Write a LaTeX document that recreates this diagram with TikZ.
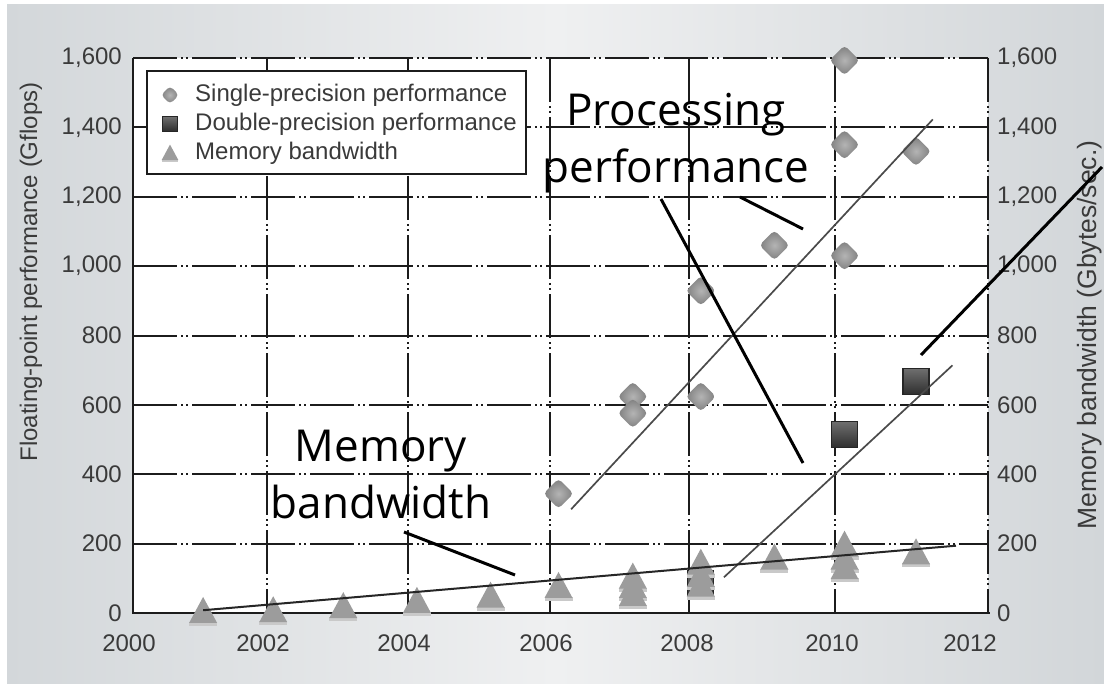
\documentclass[tikz,border=0pt]{standalone}
\usepackage{fontspec}
\setmainfont{Liberation Sans}
\newfontfamily\annfont{Open Sans}
\definecolor{bgside}{HTML}{D3D7DA}
\definecolor{bgright}{HTML}{D2D6D9}
\definecolor{bgmid}{HTML}{EFF0F1}
\definecolor{gridcol}{HTML}{1C1C1C}
\definecolor{labcol}{HTML}{3A3A3A}
\definecolor{dlight}{HTML}{B4B4B4}
\definecolor{ddark}{HTML}{7E7E7E}
\definecolor{sqtop}{HTML}{6E6E6E}
\definecolor{sqbot}{HTML}{2E2E2E}
\definecolor{sqedge}{HTML}{262626}
\definecolor{tricol}{HTML}{9C9C9C}
\definecolor{trilight}{HTML}{C9C9C9}
\definecolor{trendcol}{HTML}{4A4A4A}
\tikzset{
  gridline/.style={draw=gridcol,line width=2.2pt,dash pattern=on 44pt off 4pt on 2pt off 3pt on 2pt off 4pt},
  axisline/.style={draw=gridcol,line width=2.2pt},
  ticklab/.style={font=\fontsize{24}{28}\selectfont,text=labcol,inner sep=0pt},
  axlab/.style={font=\fontsize{24}{28}\selectfont,text=labcol,inner sep=0pt},
  raxlab/.style={font=\fontsize{26.5}{30}\selectfont,text=labcol,inner sep=0pt},
  legtext/.style={font=\fontsize{24}{28}\selectfont,text=labcol,inner sep=0pt,anchor=west},
  ann/.style={font=\annfont\fontsize{44}{57}\selectfont,align=center,inner sep=0pt,text=black},
  pointer/.style={draw=black,line width=3pt},
  trend/.style={draw=trendcol,line width=1.7pt},
  memtrend/.style={draw=black!85,line width=2pt},
  pics/diam/.style={code={\begin{scope}[scale=#1]
      \shade[inner color=dlight,outer color=ddark,rounded corners=4pt]
        (0pt,15pt) -- (15pt,0pt) -- (0pt,-15pt) -- (-15pt,0pt) -- cycle;
    \end{scope}}},
  pics/sq/.style={code={\begin{scope}[scale=#1]
      \shadedraw[top color=sqtop,bottom color=sqbot,draw=sqedge,line width=1.2pt]
        (-13pt,-13pt) rectangle (13pt,13pt);
    \end{scope}}},
  pics/tri/.style={code={\begin{scope}[scale=#1]
      \fill[trilight] (-14pt,-15pt) rectangle (14pt,-11pt);
      \fill[tricol] (-14pt,-12pt) -- (14pt,-12pt) -- (0pt,14pt) -- cycle;
    \end{scope}}}
}
\begin{document}
\begin{tikzpicture}[x=1pt,y=-1pt]
\useasboundingbox (0,0) rectangle (1104,690);
\fill[white] (0,0) rectangle (1104,690);
\shade[left color=bgside,right color=bgright,middle color=bgmid] (7,5) rectangle (1104,683);
% plot area
\fill[white] (133,58) rectangle (988,613);
% grid
\foreach \yy in {58,127.4,196.8,266.2,335.6,404.9,474.3,543.7}
  \draw[gridline] (133,\yy) -- (988,\yy);
\foreach \xx in {267,408,550,689,835}
  \draw[gridline] (\xx,58) -- (\xx,613);
\draw[gridline] (988,58) -- (988,613);
\draw[axisline] (133,58) -- (133,613) -- (990,613);
% legend
\node[draw=gridcol,line width=2pt,fill=white,minimum width=379pt,minimum height=103pt,anchor=north west,inner sep=0pt] (legend) at (146,70) {};
\pic at (170,95) {diam=0.6};
\pic at (170,124) {sq=0.55};
\pic at (170,153) {tri=0.6};
\node[legtext] (lg1) at (195,95) {Single-precision performance};
\node[legtext] (lg2) at (195,124) {Double-precision performance};
\node[legtext] (lg3) at (195,153) {Memory bandwidth};
% tick labels
\foreach \v/\t in {0/0,200/200,400/400,600/600,800/800,1000/{1,000},1200/{1,200},1400/{1,400},1600/{1,600}}{
  \node[ticklab,anchor=east] (yl\v) at (122,{613-0.3469*\v}) {\t};
  \node[ticklab,anchor=west] (yr\v) at (997,{613-0.3469*\v}) {\t};
}
\foreach \yr/\xx in {2000/129,2002/263,2004/404,2006/546,2008/687,2010/832,2012/970}
  \node[ticklab] (xl\yr) at (\xx,643) {\yr};
% axis titles
\node[axlab,rotate=90] (llab) at (31,272) {Floating-point performance (Gflops)};
\node[raxlab,rotate=90] (rlab) at (1090,335) {Memory bandwidth (Gbytes/sec.)};
% data
\begin{scope}[shift={(133,613)},x=70.1pt,y=0.3469pt]
  \foreach \a/\b in {6.07/344,7.13/624,7.13/576,8.1/929,8.1/624,9.15/1060,10.15/1593,10.15/1350,10.15/1030,11.17/1331}
    \pic at (\a,\b) {diam=1};
  \foreach \a/\b in {8.1/84,10.15/514,11.17/667}
    \pic at (\a,\b) {sq=1};
  \foreach \a/\b in {1.0/6,2.0/8,3.0/20,4.05/35,5.1/50,6.07/78,7.13/105,7.13/78,7.13/55,8.1/145,8.1/110,8.1/82,9.15/160,10.15/197,10.15/160,10.15/132,11.17/175}
    \pic at (\a,\b) {tri=1};
  \coordinate (s1) at (6.25,299);  \coordinate (s2) at (11.41,1423);
  \coordinate (d1) at (8.43,103);  \coordinate (d2) at (11.69,714);
  \coordinate (m1) at (1.0,8);     \coordinate (m2) at (11.74,194);
  \draw[trend] (s1) -- (s2);
  \draw[trend] (d1) -- (d2);
  \draw[memtrend] (m1) -- (m2);
\end{scope}
% annotations
\node[ann] (proc) at (676,143) {Processing\\performance};
\node[ann] (mem) at (381,475) {Memory\\bandwidth};
\coordinate (pa) at (740,197); \coordinate (pb) at (803,229);
\coordinate (pc) at (661,199); \coordinate (pd) at (803,463);
\coordinate (ma) at (404,532); \coordinate (mb) at (515,575);
\coordinate (qa) at (921,355); \coordinate (qb) at (1102,167);
\draw[pointer] (pa) -- (pb);
\draw[pointer] (pc) -- (pd);
\draw[pointer] (ma) -- (mb);
\draw[pointer] (qa) -- (qb);
\end{tikzpicture}
\end{document}
